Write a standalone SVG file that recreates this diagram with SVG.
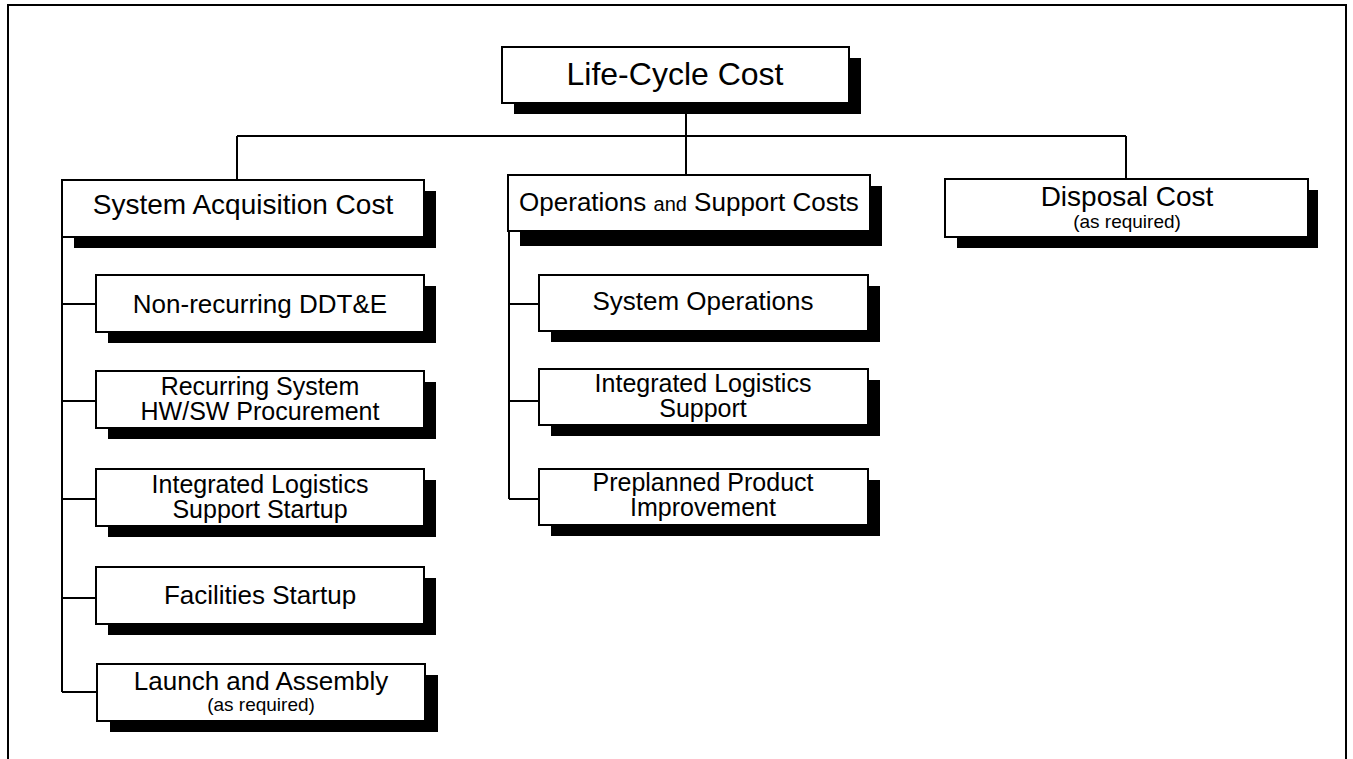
<svg xmlns="http://www.w3.org/2000/svg" width="1353" height="759" viewBox="0 0 1353 759">
<style>
.box{fill:#fff;stroke:#000;stroke-width:2}
.sh{fill:#000}
.ln{fill:none;stroke:#000;stroke-width:2}
text{font-family:"Liberation Sans",Arial,sans-serif;fill:#000;text-anchor:middle}
.t1{font-size:32px}
.t2{font-size:28px}
.t3{font-size:26px}
.t4{font-size:25px}
.sm{font-size:19px}
</style>
<rect width="1353" height="759" fill="#fff"/>
<path class="ln" d="M8,759 V5 H1346 V759"/>
<g id="connectors">
<path class="ln" d="M686,103 V175 M237,136 H1126 M237,136 V180 M1126,136 V179"/>
<path class="ln" d="M62,237 V692 M62,304 H96 M62,401 H96 M62,499 H96 M62,598 H96 M62,692 H96"/>
<path class="ln" d="M509,231 V499 M509,304 H539 M509,401 H539 M509,499 H539"/>
</g>
<g id="lcc">
<rect class="sh" x="514" y="58" width="347" height="56"/>
<rect class="box" x="502" y="47" width="347" height="56"/>
<text class="t1" x="675" y="85">Life-Cycle Cost</text>
</g>
<g id="sac">
<rect class="sh" x="74" y="191" width="362" height="57"/>
<rect class="box" x="62" y="180" width="362" height="57"/>
<text class="t2" x="243" y="214">System Acquisition Cost</text>
</g>
<g id="osc">
<rect class="sh" x="520" y="186" width="362" height="60"/>
<rect class="box" x="508" y="175" width="362" height="56"/>
<text class="t3" x="689" y="211">Operations <tspan style="font-size:20px">and</tspan> Support Costs</text>
</g>
<g id="disposal">
<rect class="sh" x="957" y="190" width="361" height="58"/>
<rect class="box" x="945" y="179" width="363" height="58"/>
<text class="t2" x="1127" y="206">Disposal Cost</text>
<text class="sm" x="1127" y="228">(as required)</text>
</g>
<g id="nonrec">
<rect class="sh" x="108" y="286" width="328" height="57"/>
<rect class="box" x="96" y="275" width="328" height="57"/>
<text class="t3" x="260" y="313">Non-recurring DDT&amp;E</text>
</g>
<g id="recurring">
<rect class="sh" x="108" y="382" width="328" height="57"/>
<rect class="box" x="96" y="371" width="328" height="57"/>
<text class="t4" x="260" y="395">Recurring System</text>
<text class="t4" x="260" y="420">HW/SW Procurement</text>
</g>
<g id="ilsstart">
<rect class="sh" x="108" y="480" width="328" height="57"/>
<rect class="box" x="96" y="469" width="328" height="57"/>
<text class="t4" x="260" y="493">Integrated Logistics</text>
<text class="t4" x="260" y="518">Support Startup</text>
</g>
<g id="facilities">
<rect class="sh" x="108" y="578" width="328" height="57"/>
<rect class="box" x="96" y="567" width="328" height="57"/>
<text class="t3" x="260" y="604">Facilities Startup</text>
</g>
<g id="launch">
<rect class="sh" x="110" y="675" width="328" height="57"/>
<rect class="box" x="97" y="664" width="328" height="57"/>
<text class="t3" x="261" y="690">Launch and Assembly</text>
<text class="sm" x="261" y="711">(as required)</text>
</g>
<g id="sysops">
<rect class="sh" x="551" y="286" width="329" height="56"/>
<rect class="box" x="539" y="275" width="329" height="56"/>
<text class="t3" x="703" y="310">System Operations</text>
</g>
<g id="ils">
<rect class="sh" x="551" y="380" width="329" height="56"/>
<rect class="box" x="539" y="369" width="329" height="56"/>
<text class="t4" x="703" y="392">Integrated Logistics</text>
<text class="t4" x="703" y="417">Support</text>
</g>
<g id="p3i">
<rect class="sh" x="551" y="480" width="329" height="56"/>
<rect class="box" x="539" y="469" width="329" height="56"/>
<text class="t4" x="703" y="491">Preplanned Product</text>
<text class="t4" x="703" y="516">Improvement</text>
</g>
</svg>
